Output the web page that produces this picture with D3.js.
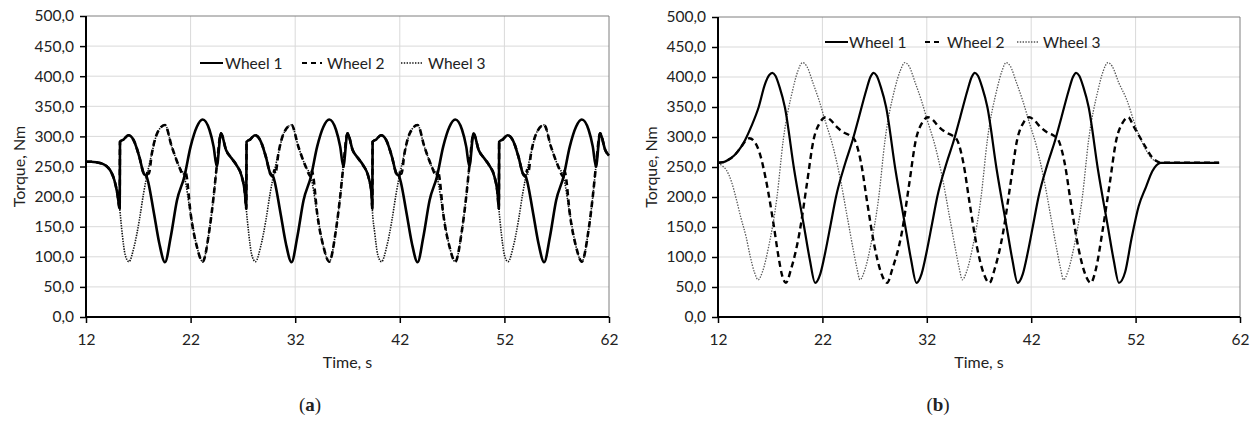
<!DOCTYPE html>
<html>
<head>
<meta charset="utf-8">
<script src="https://cdn.jsdelivr.net/npm/d3@7"></script>
<style>
  html, body { margin: 0; padding: 0; background: #fff; }
  svg { display: block; }
  text { font-family: Lato, "Noto Sans", sans-serif; fill: #222; }
</style>
</head>
<body>
<svg id="chart" width="1254" height="421"></svg>
<script>
// ---- axis ticks ----
const xTicks = [12, 22, 32, 42, 52, 62];
const yTicks = [0, 50, 100, 150, 200, 250, 300, 350, 400, 450, 500];
const seriesNames = ["Wheel 1", "Wheel 2", "Wheel 3"];

// ---- panel (a): torque [time s, torque Nm] ----
const wheel1A = [
  [12,258],[12.5,258],[13,257],[13.5,255],[14,250],[14.4,241],[14.7,228],[15,205],[15.22,180],
  [15.25,291],[15.6,295],[16.05,302],[16.55,294],[17.1,266],[17.5,239],[17.8,233],[18.5,172],[19,123],[19.55,91],[20.1,133],[20.7,194],[21.4,233],[22,283],[22.6,316],[23.15,328],[23.8,311],[24.2,283],[24.5,250],[24.9,305],[25.4,277],[25.9,264],[26.4,252],[26.9,233],[27.2,205],[27.32,180],
  [27.35,291],[27.7,295],[28.15,302],[28.65,294],[29.2,266],[29.6,239],[29.9,233],[30.6,172],[31.1,123],[31.65,91],[32.2,133],[32.8,194],[33.5,233],[34.1,283],[34.7,316],[35.25,328],[35.9,311],[36.3,283],[36.6,250],[37,305],[37.5,277],[38,264],[38.5,252],[39,233],[39.3,205],[39.37,180],
  [39.4,291],[39.75,295],[40.2,302],[40.7,294],[41.25,266],[41.65,239],[41.95,233],[42.65,172],[43.15,123],[43.7,91],[44.25,133],[44.85,194],[45.55,233],[46.15,283],[46.75,316],[47.3,328],[47.95,311],[48.35,283],[48.65,250],[49.05,305],[49.55,277],[50.05,264],[50.55,252],[51.05,233],[51.35,205],[51.47,180],
  [51.5,291],[51.85,295],[52.3,302],[52.8,294],[53.35,266],[53.75,239],[54.05,233],[54.75,172],[55.25,123],[55.8,91],[56.35,133],[56.95,194],[57.65,233],[58.25,283],[58.85,316],[59.4,328],[60.05,311],[60.45,283],[60.75,250],[61.15,305],[61.65,277],[62,268]
];
const wheel2A = [
  [12,258],[12.5,258],[13,257],[13.5,255],[14,250],[14.4,241],[14.7,228],[15,205],[15.22,180],
  [15.25,291],[15.6,295],[16.05,302],[16.55,294],[17.1,266],[17.5,239],[17.8,233],[17.9,244],[18,238],[18.3,272],[18.8,305],[19.55,319],[20.2,283],[20.9,250],[21.4,233],[21.5,243],[21.6,236],[22,172],[22.6,117],[23.15,92],[23.8,145],[24.2,200],[24.5,250],[24.9,305],[25.4,277],[25.9,264],[26.4,252],[26.9,233],[27.2,205],[27.32,180],
  [27.35,291],[27.7,295],[28.15,302],[28.65,294],[29.2,266],[29.6,239],[29.9,233],[30,244],[30.1,238],[30.4,272],[30.9,305],[31.65,319],[32.3,283],[33,250],[33.5,233],[33.6,243],[33.7,236],[34.1,172],[34.7,117],[35.25,92],[35.9,145],[36.3,200],[36.6,250],[37,305],[37.5,277],[38,264],[38.5,252],[39,233],[39.3,205],[39.37,180],
  [39.4,291],[39.75,295],[40.2,302],[40.7,294],[41.25,266],[41.65,239],[41.95,233],[42.05,244],[42.15,238],[42.45,272],[42.95,305],[43.7,319],[44.35,283],[45.05,250],[45.55,233],[45.65,243],[45.75,236],[46.15,172],[46.75,117],[47.3,92],[47.95,145],[48.35,200],[48.65,250],[49.05,305],[49.55,277],[50.05,264],[50.55,252],[51.05,233],[51.35,205],[51.47,180],
  [51.5,291],[51.85,295],[52.3,302],[52.8,294],[53.35,266],[53.75,239],[54.05,233],[54.15,244],[54.25,238],[54.55,272],[55.05,305],[55.8,319],[56.45,283],[57.15,250],[57.65,233],[57.75,243],[57.85,236],[58.25,172],[58.85,117],[59.4,92],[60.05,145],[60.45,200],[60.75,250],[61.15,305],[61.65,277],[62,268]
];
const wheel3A = [
  [12,258],[12.5,258],[13,257],[13.5,255],[14,250],[14.4,241],[14.7,228],[15,205],[15.22,180],
  [15.45,140],[15.75,103],[16.1,92],[16.6,117],[17.1,161],[17.5,205],[17.8,233],[18.3,272],[18.8,305],[19.55,319],[20.2,283],[20.9,250],[21.4,233],[22,172],[22.6,117],[23.15,92],[23.8,145],[24.2,200],[24.5,250],[24.9,305],[25.4,277],[25.9,264],[26.4,252],[26.9,233],[27.2,205],[27.32,180],
  [27.55,140],[27.85,103],[28.2,92],[28.7,117],[29.2,161],[29.6,205],[29.9,233],[30.4,272],[30.9,305],[31.65,319],[32.3,283],[33,250],[33.5,233],[34.1,172],[34.7,117],[35.25,92],[35.9,145],[36.3,200],[36.6,250],[37,305],[37.5,277],[38,264],[38.5,252],[39,233],[39.3,205],[39.37,180],
  [39.6,140],[39.9,103],[40.25,92],[40.75,117],[41.25,161],[41.65,205],[41.95,233],[42.45,272],[42.95,305],[43.7,319],[44.35,283],[45.05,250],[45.55,233],[46.15,172],[46.75,117],[47.3,92],[47.95,145],[48.35,200],[48.65,250],[49.05,305],[49.55,277],[50.05,264],[50.55,252],[51.05,233],[51.35,205],[51.47,180],
  [51.7,140],[52,103],[52.35,92],[52.85,117],[53.35,161],[53.75,205],[54.05,233],[54.55,272],[55.05,305],[55.8,319],[56.45,283],[57.15,250],[57.65,233],[58.25,172],[58.85,117],[59.4,92],[60.05,145],[60.45,200],[60.75,250],[61.15,305],[61.65,277],[62,268]
];

// ---- panel (b): torque [time s, torque Nm] ----
const wheel1B = [
  [12,257],[12.5,258],[13,262],[13.6,270],[14.2,283],[14.6,295],[15.2,318],[15.9,350],[16.5,388],[16.9,403],[17.2,407],[17.5,402],[17.9,383],[18.4,350],[19.3,245],[20.3,145],[20.8,95],[21.3,57],
  [21.8,72],[22.3,110],[22.8,155],[23.3,200],[24.2,257],[24.9,295],[25.5,333],[26.2,378],[26.6,400],[26.9,407],[27.2,402],[27.6,383],[28.1,350],[29,245],[30,145],[30.5,95],[31,57],
  [31.5,72],[32,110],[32.5,155],[33,200],[33.9,257],[34.6,295],[35.2,333],[35.9,378],[36.3,400],[36.6,407],[36.9,402],[37.3,383],[37.8,350],[38.7,245],[39.7,145],[40.2,95],[40.7,57],
  [41.2,72],[41.7,110],[42.2,155],[42.7,200],[43.6,257],[44.3,295],[44.9,333],[45.6,378],[46,400],[46.3,407],[46.6,402],[47,383],[47.5,350],[48.4,245],[49.4,145],[49.9,95],[50.4,57],
  [51,75],[51.6,130],[52.3,185],[53,217],[53.6,243],[54,253],[54.4,257],[55,257],[57,257],[60,257]
];
const wheel2B = [
  [12,257],[12.5,258],[13,262],[13.6,270],[14.2,283],[14.6,293],[15,298],[15.5,292],[15.9,278],[16.6,228],[17.3,157],[17.8,100],[18.1,72],[18.5,57],
  [19,80],[19.8,140],[20.5,220],[21.15,295],[21.8,325],[22.3,333],[22.8,328],[23.3,318],[24.1,307],[24.6,303],[25.1,295],[25.7,257],[26.3,190],[27,117],[27.6,75],[28.2,57],
  [28.7,80],[29.6,140],[30.3,220],[30.95,295],[31.6,325],[32.1,333],[32.6,328],[33.1,318],[33.9,307],[34.4,303],[34.9,295],[35.5,257],[36.1,190],[36.8,117],[37.4,75],[38,57],
  [38.5,80],[39.3,140],[40,220],[40.65,295],[41.3,325],[41.8,333],[42.3,328],[42.8,318],[43.6,307],[44.1,303],[44.6,295],[45.2,257],[45.8,190],[46.5,117],[47.1,75],[47.7,57],
  [48.2,80],[48.8,140],[49.5,220],[50.15,295],[50.8,325],[51.3,333],[51.8,318],[52.4,300],[53,282],[53.5,268],[54,260],[54.4,257],[55,257],[57,257],[60,257]
];
const wheel3B = [
  [12,257],[12.4,252],[12.8,245],[13.3,225],[13.7,200],[14.2,165],[14.7,133],[15.1,100],[15.5,74],[15.85,62],
  [16.25,75],[16.85,117],[17.65,200],[18.25,295],[19.15,378],[19.65,410],[20.1,424],[20.5,418],[21.1,390],[21.7,360],[22.3,325],[23,285],[23.6,240],[24.4,165],[25,108],[25.3,82],[25.6,62],
  [26,75],[26.6,117],[27.4,200],[28,295],[28.9,378],[29.45,410],[29.9,424],[30.3,418],[30.9,390],[31.5,360],[32.1,325],[32.8,285],[33.4,240],[34.2,165],[34.8,108],[35.1,82],[35.4,62],
  [35.8,75],[36.4,117],[37.2,200],[37.8,295],[38.7,378],[39.2,410],[39.6,424],[40,418],[40.6,390],[41.2,360],[41.8,325],[42.5,285],[43.1,240],[43.9,165],[44.5,108],[44.8,82],[45.1,62],
  [45.5,75],[46.1,117],[46.9,200],[47.5,295],[48.4,378],[48.9,410],[49.35,424],[49.75,418],[50.4,390],[51.2,360],[51.8,328],[52.4,300],[53,278],[53.5,265],[54,259],[54.4,257],[55,257],[57,257],[60,257]
];

const svg = d3.select("#chart");
const fontSize = 15.5;

function drawPanel(opt) {
  const x = d3.scaleLinear().domain([12, 62]).range([opt.left, opt.right]);
  const y = d3.scaleLinear().domain([0, 500]).range([opt.bottom, opt.top]);
  const g = svg.append("g");

  // grid
  g.append("g").selectAll("line").data(yTicks.filter(v => v > 0 && v < 500)).join("line")
    .attr("x1", opt.left).attr("x2", opt.right)
    .attr("y1", d => y(d)).attr("y2", d => y(d))
    .attr("stroke", "#d9d9d9").attr("stroke-width", 1);
  g.append("g").selectAll("line").data(xTicks.filter(v => v > 12 && v < 62)).join("line")
    .attr("y1", opt.top).attr("y2", opt.bottom)
    .attr("x1", d => x(d)).attr("x2", d => x(d))
    .attr("stroke", "#d9d9d9").attr("stroke-width", 1);

  // plot frame (top / right)
  g.append("path")
    .attr("d", `M${opt.left},${opt.top}H${opt.right}V${opt.bottom}`)
    .attr("fill", "none").attr("stroke", "#7f7f7f").attr("stroke-width", 1);

  // legend
  const lg = g.append("g").attr("transform", `translate(0,${opt.legendY})`);
  opt.legend.forEach((L, i) => {
    const s = opt.styles[i];
    lg.append("line").attr("x1", L.x0).attr("x2", L.x1).attr("y1", 0).attr("y2", 0)
      .attr("stroke", s.color).attr("stroke-width", i === 2 ? 1.3 : 2)
      .attr("stroke-dasharray", i === 1 ? "5,4" : (i === 2 ? "1.4,1.4" : null));
    lg.append("text").attr("x", L.tx).attr("y", 5.5).attr("font-size", fontSize)
      .text(seriesNames[i]);
  });

  // series
  const line = d3.line().x(d => x(d[0])).y(d => y(d[1])).curve(d3.curveMonotoneX);
  [2, 1, 0].forEach(i => {
    const s = opt.styles[i];
    g.append("path").datum(opt.series[i])
      .attr("d", line)
      .attr("fill", "none")
      .attr("stroke", s.color)
      .attr("stroke-width", s.width)
      .attr("stroke-dasharray", s.dash)
      .attr("stroke-linejoin", "round");
  });

  // axes
  const yAxis = d3.axisLeft(y).tickValues(yTicks).tickSize(6).tickPadding(6)
    .tickFormat(d => d.toFixed(1).replace(".", ","));
  const ya = g.append("g").attr("transform", `translate(${opt.left},0)`).call(yAxis);
  const xAxis = d3.axisBottom(x).tickValues(xTicks).tickSize(6).tickPadding(11)
    .tickFormat(d3.format("d"));
  const xa = g.append("g").attr("transform", `translate(0,${opt.bottom})`).call(xAxis);
  [ya, xa].forEach(a => {
    a.select(".domain").attr("stroke", "#000").attr("stroke-width", 2);
    a.selectAll(".tick line").attr("stroke", "#000").attr("stroke-width", 1.5);
    a.selectAll(".tick text").attr("font-size", fontSize).attr("fill", "#222")
      .attr("font-family", "Lato, 'Noto Sans', sans-serif");
  });
  ya.select(".domain").attr("d", `M0,${opt.bottom}V${opt.top}`);
  xa.select(".domain").attr("d", `M${opt.left},0H${opt.right}`);

  // axis titles
  g.append("text")
    .attr("transform", `translate(${opt.ytitleX},${(opt.top + opt.bottom) / 2}) rotate(-90)`)
    .attr("text-anchor", "middle").attr("font-size", 16).text("Torque, Nm");
  g.append("text")
    .attr("x", (opt.left + opt.right) / 2).attr("y", 368)
    .attr("text-anchor", "middle").attr("font-size", 16).text("Time, s");

  // panel letter
  const cap = g.append("text")
    .attr("x", opt.capX).attr("y", 411).attr("text-anchor", "middle")
    .attr("font-size", 19).style("font-family", "'Liberation Serif', 'DejaVu Serif', serif");
  cap.append("tspan").text("(");
  cap.append("tspan").attr("font-weight", "bold").text(opt.letter);
  cap.append("tspan").text(")");
}

drawPanel({
  left: 86, right: 609, top: 16, bottom: 317,
  series: [wheel1A, wheel2A, wheel3A],
  styles: [
    { width: 2.6, dash: null,      color: "#000" },
    { width: 2.6, dash: "6,4",     color: "#000" },
    { width: 1.6, dash: "1.4,1.2", color: "#111" }
  ],
  legendY: 63,
  legend: [ { x0: 200, x1: 223, tx: 225 }, { x0: 302, x1: 322, tx: 327 }, { x0: 401, x1: 423, tx: 428 } ],
  ytitleX: 25, capX: 310, letter: "a"
});
drawPanel({
  left: 718, right: 1240, top: 17, bottom: 317,
  series: [wheel1B, wheel2B, wheel3B],
  styles: [
    { width: 2.2, dash: null,      color: "#000" },
    { width: 2.4, dash: "6,4",     color: "#000" },
    { width: 1.3, dash: "1.4,1.4", color: "#555" }
  ],
  legendY: 42,
  legend: [ { x0: 825, x1: 848, tx: 849 }, { x0: 925, x1: 943, tx: 947 }, { x0: 1017, x1: 1038, tx: 1043 } ],
  ytitleX: 657, capX: 938, letter: "b"
});
</script>
</body>
</html>
